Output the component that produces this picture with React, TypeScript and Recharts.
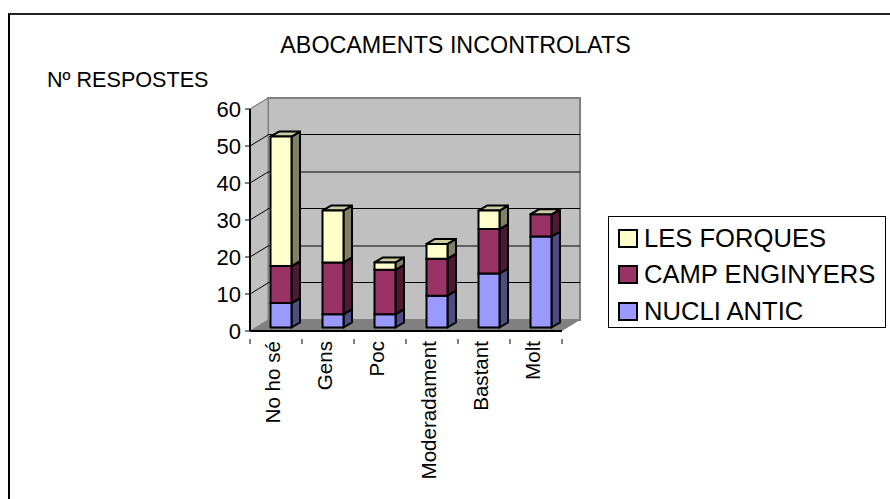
import { Bar, BarChart, CartesianGrid, Legend, XAxis, YAxis } from "recharts";

const categories = ["No ho sé", "Gens", "Poc", "Moderadament", "Bastant", "Molt"];
const nucliAntic = [7, 4, 4, 9, 15, 25];
const campEnginyers = [10, 14, 12, 10, 12, 6];
const lesForques = [35, 14, 2, 4, 5, 0];
const yTicks = [0, 10, 20, 30, 40, 50, 60];

const data = categories.map((name, i) => ({
  name,
  nucli: nucliAntic[i],
  camp: campEnginyers[i],
  forques: lesForques[i],
}));

const legendItems = [
  { label: "LES FORQUES", fill: "#ffffcc" },
  { label: "CAMP ENGINYERS", fill: "#993366" },
  { label: "NUCLI ANTIC", fill: "#9999ff" },
];

const FONT = "'Liberation Sans', Arial, sans-serif";
const LEFT = 250;
const TOP = 109;
const PLOT_W = 312;
const PLOT_H = 222;
const WALL_DX = 18;
const WALL_DY = -11;

// back wall, side wall and floor of the 3D box, sits behind the chart svg
function Walls() {
  const l = LEFT;
  const r = LEFT + PLOT_W;
  const t = TOP;
  const b = TOP + PLOT_H;
  const pts = (p: number[][]) => p.map((q) => q.join(",")).join(" ");
  return (
    <svg width={890} height={499} style={{ position: "absolute", left: 0, top: 0 }}>
      <polygon points={pts([[l + WALL_DX, t + WALL_DY], [r + WALL_DX, t + WALL_DY], [r + WALL_DX, b + WALL_DY], [l + WALL_DX, b + WALL_DY]])} fill="#c0c0c0" stroke="#808080" strokeWidth={2} />
      <polygon points={pts([[l, t], [l + WALL_DX, t + WALL_DY], [l + WALL_DX, b + WALL_DY], [l, b]])} fill="#c0c0c0" stroke="#808080" strokeWidth={1} />
      <polygon points={pts([[l, b], [l + WALL_DX, b + WALL_DY], [r + WALL_DX, b + WALL_DY], [r, b]])} fill="#808080" />
    </svg>
  );
}

function GridLine(props: any) {
  const { x1, x2, y1 } = props;
  if (y1 >= TOP + PLOT_H - 1) return <g />;
  const top = y1 <= TOP + 1;
  // the reference draws 10/30/50 crisp and 20/40 blurred over two rows
  const crisp = Math.round((y1 - TOP) / 37) % 2 === 1;
  const wallY = y1 + WALL_DY - (crisp ? 0.5 : 0);
  return (
    <g>
      {!top && <line x1={x1 + WALL_DX} x2={x2 + WALL_DX} y1={wallY} y2={wallY} stroke="#000" strokeWidth={1} />}
      <line x1={x1} x2={x1 + WALL_DX} y1={y1} y2={y1 + WALL_DY} stroke={top ? "#808080" : "#000"} strokeWidth={1} />
    </g>
  );
}

const SHADES: Record<string, { side: string; top: string }> = {
  nucli: { side: "#4d4d80", top: "#7a7acc" },
  camp: { side: "#4d1a33", top: "#7a2952" },
  forques: { side: "#808066", top: "#ccccA3" },
};

function Box3D(props: any) {
  const { x, y, width, height, fill, dataKey } = props;
  const fx = x + 4.5;
  const fy = y - 2;
  const h = dataKey === "nucli" ? height - 1.5 : height;
  const dx = 8.5;
  const dy = -5;
  const shade = SHADES[dataKey];
  const common = { stroke: "#000", strokeWidth: 2, strokeLinejoin: "round" as const };
  return (
    <g>
      <polygon points={`${fx + width},${fy} ${fx + width + dx},${fy + dy} ${fx + width + dx},${fy + h + dy} ${fx + width},${fy + h}`} fill={shade.side} {...common} />
      <polygon points={`${fx},${fy} ${fx + dx},${fy + dy} ${fx + width + dx},${fy + dy} ${fx + width},${fy}`} fill={shade.top} {...common} />
      <rect x={fx} y={fy} width={width} height={h} fill={fill} {...common} />
    </g>
  );
}

function CategoryTick(props: any) {
  const { x, y, payload, index } = props;
  const band = PLOT_W / categories.length;
  const left = x - band / 2;
  return (
    <g>
      <line x1={left} x2={left} y1={y} y2={y + 5} stroke="#000" strokeWidth={1} />
      {index === categories.length - 1 && <line x1={left + band} x2={left + band} y1={y} y2={y + 5} stroke="#000" strokeWidth={1} />}
      <text x={x + 4} y={341} transform={`rotate(-90 ${x + 4} 341)`} textAnchor="end" fontSize={20.6} fontFamily={FONT} fill="#000">
        {payload.value}
      </text>
    </g>
  );
}

function ChartLegend() {
  return (
    <div style={{ width: 276, height: 110, border: "1px solid #000", boxSizing: "content-box", background: "#fff", fontFamily: FONT, fontSize: 25.6, color: "#000", position: "relative" }}>
      {legendItems.map((item, i) => (
        <div key={item.label} style={{ position: "absolute", left: 9, top: 12 + i * 36.5, height: 18, display: "flex", alignItems: "center", whiteSpace: "nowrap" }}>
          <span style={{ display: "inline-block", width: 16, height: 15, background: item.fill, border: "2px solid #000", marginRight: 6 }} />
          {item.label}
        </div>
      ))}
    </div>
  );
}

export default function App() {
  return (
    <div style={{ position: "absolute", left: 0, top: 0, width: 890, height: 499, background: "#fff" }}>
      <div style={{ position: "absolute", left: 8, top: 13, width: 882, height: 486, borderTop: "2px solid #222", borderLeft: "2px solid #000" }} />
      <Walls />
      <BarChart
        width={890}
        height={499}
        data={data}
        barSize={21}
        margin={{ top: TOP, left: LEFT - 60, right: 890 - LEFT - PLOT_W, bottom: 499 - TOP - PLOT_H - 140 }}
        style={{ position: "absolute", left: 0, top: 0 }}
      >
        <CartesianGrid vertical={false} horizontal={GridLine} />
        <XAxis dataKey="name" height={140} interval={0} tick={CategoryTick} tickLine={false} axisLine={{ stroke: "#000", strokeWidth: 2 }} />
        <YAxis
          width={60}
          domain={[0, 60]}
          ticks={yTicks}
          interval={0}
          tickSize={5}
          tickMargin={4}
          tick={{ fontSize: 22, fontFamily: FONT, fill: "#000" }}
          tickLine={{ stroke: "#000", strokeWidth: 1 }}
          axisLine={{ stroke: "#000", strokeWidth: 2 }}
        />
        <Bar dataKey="nucli" name="NUCLI ANTIC" stackId="a" fill="#9999ff" shape={Box3D} isAnimationActive={false} />
        <Bar dataKey="camp" name="CAMP ENGINYERS" stackId="a" fill="#993366" shape={Box3D} isAnimationActive={false} />
        <Bar dataKey="forques" name="LES FORQUES" stackId="a" fill="#ffffcc" shape={Box3D} isAnimationActive={false} />
        <Legend layout="vertical" align="center" verticalAlign="middle" content={ChartLegend} wrapperStyle={{ left: 608, top: 216, width: 278, height: 112 }} />
        <text x={455.5} y={53} textAnchor="middle" fontSize={23.3} fontFamily={FONT} fill="#000">ABOCAMENTS INCONTROLATS</text>
        <text x={47} y={87} fontSize={21.6} fontFamily={FONT} fill="#000">Nº RESPOSTES</text>
      </BarChart>
    </div>
  );
}
